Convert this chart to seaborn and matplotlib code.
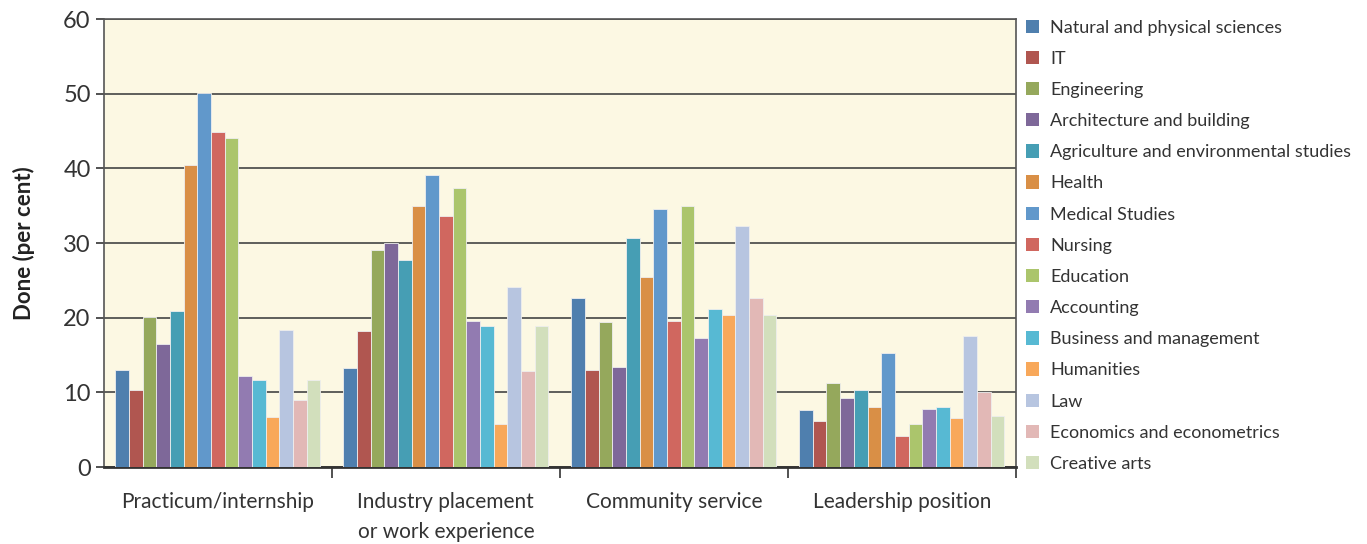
import seaborn as sns
import matplotlib.pyplot as plt
import pandas as pd
from matplotlib.patches import Patch
from matplotlib.ticker import FixedLocator

activities = ["Practicum/internship", "Industry placement\nor work experience",
              "Community service", "Leadership position"]

fields = ["Natural and physical sciences", "IT", "Engineering", "Architecture and building",
          "Agriculture and environmental studies", "Health", "Medical Studies", "Nursing",
          "Education", "Accounting", "Business and management", "Humanities", "Law",
          "Economics and econometrics", "Creative arts"]

practicum = [13.0, 10.3, 20.1, 16.5, 20.9, 40.4, 50.1, 44.9, 44.1, 12.2, 11.7, 6.7, 18.4, 9.0, 11.7]
industry = [13.3, 18.2, 29.1, 30.0, 27.7, 34.9, 39.1, 33.6, 37.4, 19.5, 18.9, 5.8, 24.1, 12.8, 18.9]
community = [22.6, 13.0, 19.4, 13.4, 30.7, 25.5, 34.6, 19.5, 34.9, 17.3, 21.2, 20.3, 32.3, 22.6, 20.4]
leadership = [7.7, 6.2, 11.3, 9.3, 10.3, 8.0, 15.3, 4.2, 5.7, 7.8, 8.1, 6.6, 17.6, 10.1, 6.9]

colors = ["#4F7FAE", "#B05650", "#95A85C", "#7E6899", "#469EB4", "#D98F46", "#6198CB",
          "#D0675F", "#ABC56C", "#927BB1", "#57B9D3", "#F8A85A", "#B7C5E0", "#E2B8B6",
          "#D2DFBC"]

rows = []
for act, vals in zip(activities, [practicum, industry, community, leadership]):
    for f, v in zip(fields, vals):
        rows.append({"activity": act, "field": f, "value": v})
df = pd.DataFrame(rows)

sns.set_style("white")
plt.rcParams["font.family"] = ["Lato", "DejaVu Sans"]

fig = plt.figure(figsize=(13.67, 5.44), dpi=100)
ax = fig.add_axes([0.076, 0.1415, 0.667, 0.8235])
ax.set_facecolor("#FCF8E3")

sns.barplot(data=df, x="activity", y="value", hue="field", order=activities,
            hue_order=fields, palette=colors, width=0.9, gap=0, saturation=1,
            edgecolor="#EEEEEE", linewidth=0.6, legend=False, ax=ax, zorder=3)

ax.set_ylim(0, 60)
ax.set_xlim(-0.5, 3.5)
ax.set_yticks(range(0, 61, 10))
ax.yaxis.grid(True, color="#444444", linewidth=1.2, zorder=0)
ax.set_axisbelow(True)
for s in ax.spines.values():
    s.set_color("#555555")
    s.set_linewidth(1.2)
ax.spines["bottom"].set_color("#333333")
ax.spines["bottom"].set_linewidth(2)

ax.tick_params(axis="y", labelsize=17, length=6, width=1.2, color="#333333",
               left=True, colors="#333333")
ax.tick_params(axis="x", which="major", length=0, labelsize=15, pad=18, colors="#333333")
for lbl in ax.get_xticklabels():
    lbl.set_linespacing(1.6)
ax.xaxis.set_minor_locator(FixedLocator([0.5, 1.5, 2.5, 3.5]))
ax.tick_params(axis="x", which="minor", bottom=True, length=8, width=1.2, color="#333333")

ax.set_xlabel("")
ax.set_ylabel("Done (per cent)", fontsize=16, fontweight="bold", color="#222222", labelpad=20)

handles = [Patch(facecolor=c, edgecolor="none") for c in colors]
ax.legend(handles, fields, loc="upper left", bbox_to_anchor=(1.003, 1.015), frameon=False,
          fontsize=13, handlelength=0.75, handleheight=0.75, handletextpad=0.6,
          labelspacing=0.84, borderaxespad=0, labelcolor="#333333")

fig.savefig("out.png", dpi=100)
